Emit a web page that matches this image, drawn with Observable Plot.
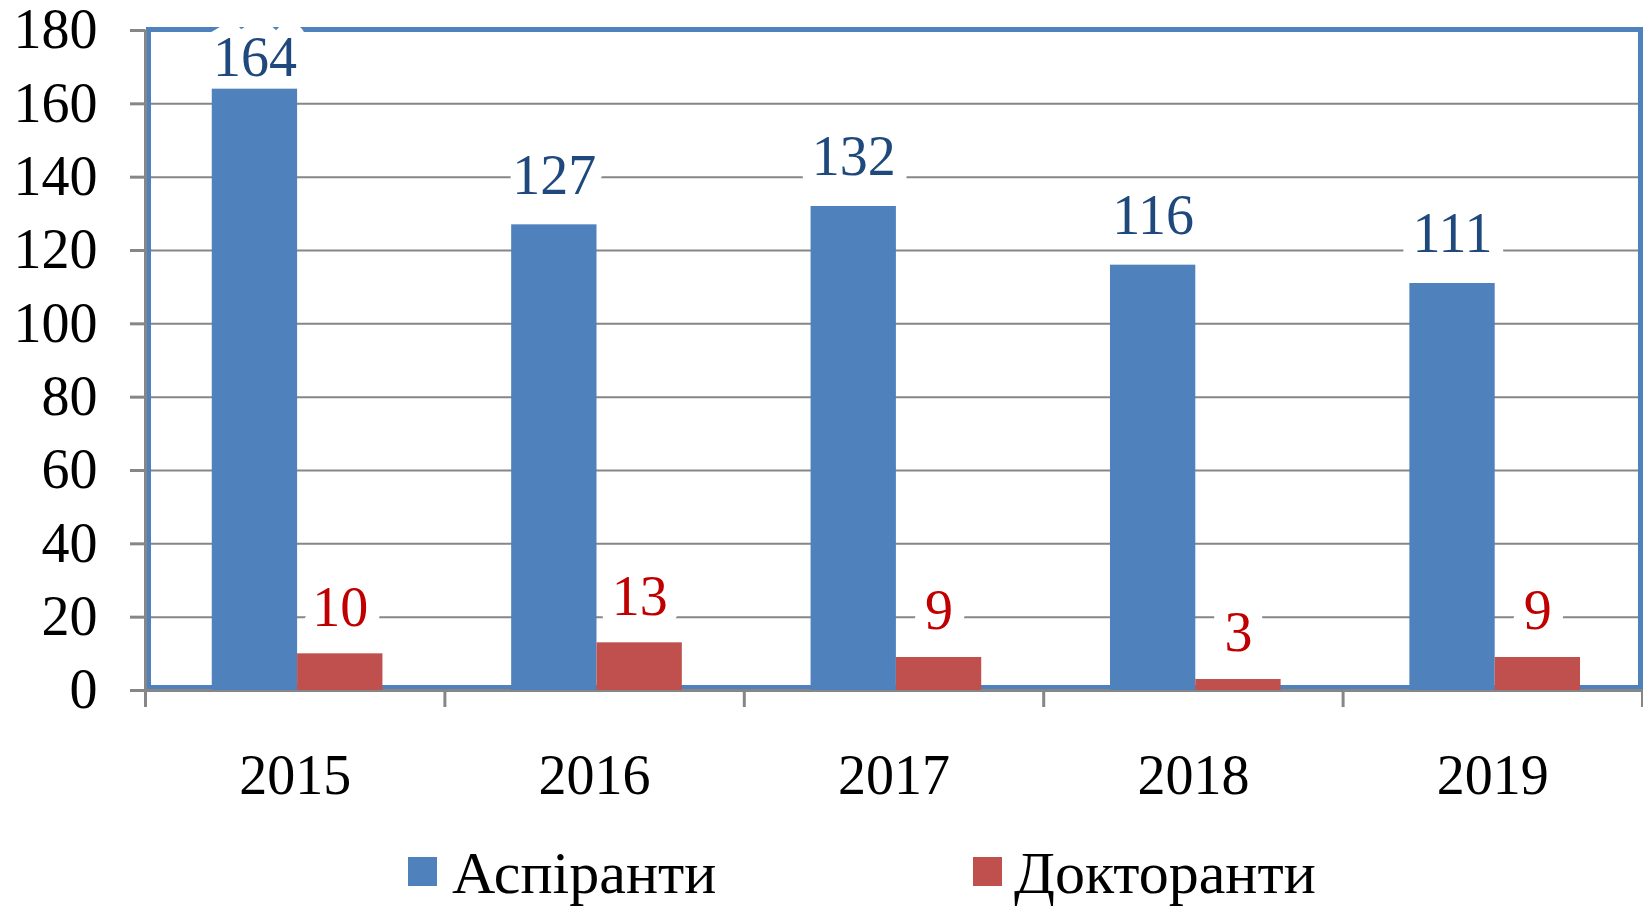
<!DOCTYPE html>
<html><head><meta charset="utf-8">
<script src="https://cdn.jsdelivr.net/npm/d3@7"></script>
<script src="https://cdn.jsdelivr.net/npm/@observablehq/plot@0.6"></script>
<style>
body{margin:0;background:#fff;}
#legend{position:relative;width:1643px;height:86px;font-family:"Liberation Serif","Times New Roman",serif;font-size:60px;}
.sw{position:absolute;top:37px;width:29px;height:29px;}
.lt{position:absolute;top:23px;line-height:60px;white-space:nowrap;color:#000;}
</style></head><body>
<div id="chart"></div>
<div id="legend"></div>
<script>
const years = [2015, 2016, 2017, 2018, 2019];
const seriesNames = ["Аспіранти", "Докторанти"];
const aspiranty = [164, 127, 132, 116, 111];
const doktoranty = [10, 13, 9, 3, 9];
const yTicks = [0, 20, 40, 60, 80, 100, 120, 140, 160, 180];
const seriesColors = ["#4F81BD", "#C0504D"];
const labelColors = ["#1F497D", "#C00000"];

const data = years.flatMap((year, i) => [
  {year, series: seriesNames[0], value: aspiranty[i], k: 0},
  {year, series: seriesNames[1], value: doktoranty[i], k: 1}
]);
const barW = 0.285, shift = 0.008;
const x1 = d => d.year + shift + (d.k - 1) * barW;
const x2 = d => d.year + shift + d.k * barW;
const xc = d => d.year + shift + (d.k - 0.5) * barW;
const boundaries = [...years.map(y => y - 0.5), years[years.length - 1] + 0.5];
const labelMax = 159; // keep labels inside the plot area
const grey = "#868686";
const font = '"Liberation Serif", "Times New Roman", serif';

const labelMark = (k, dy) => Plot.text(data.filter(d => d.k === k), {
  x: xc, y: d => Math.min(d.value, labelMax), text: d => String(d.value),
  dy, fill: labelColors[k], stroke: "white", strokeWidth: 28, strokeLinejoin: "round",
  paintOrder: "stroke", fontSize: 56, fontFamily: font
});

const plot = Plot.plot({
  width: 1643, height: 820,
  marginLeft: 145, marginRight: 1, marginTop: 30, marginBottom: 130,
  style: {fontFamily: font, fontSize: "56px", background: "#fff", color: "#000"},
  x: {type: "linear", domain: [boundaries[0], boundaries[boundaries.length - 1]], label: null},
  y: {domain: [0, 180], label: null},
  color: {domain: seriesNames, range: seriesColors},
  marks: [
    Plot.gridY(yTicks.filter(v => v > 0), {stroke: grey, strokeOpacity: 1, strokeWidth: 2}),
    Plot.frame({stroke: "#4F81BD", strokeWidth: 5, insetLeft: 3, insetRight: 2, insetBottom: 3, insetTop: -1}),
    Plot.ruleX([boundaries[0]], {stroke: grey, strokeWidth: 3}),
    Plot.ruleY([0], {stroke: grey, strokeWidth: 3}),
    Plot.axisY({ticks: yTicks, tickSize: 15, tickPadding: 33, stroke: grey, strokeWidth: 3, fill: "#000", fontSize: 56, label: null}),
    Plot.axisX({ticks: boundaries, tickSize: 17, tickFormat: () => "", stroke: grey, strokeWidth: 3, label: null}),
    Plot.axisX({ticks: years, tickSize: 0, tickPadding: 64, tickFormat: d => String(d), fill: "#000", fontSize: 56, label: null}),
    labelMark(0, -49),
    labelMark(1, -46),
    Plot.rectY(data, {x1, x2, y1: 0, y2: "value", fill: "series"})
  ]
});
document.getElementById("chart").append(plot);

const legend = document.getElementById("legend");
const legendPos = [[408, 452], [973, 1014]];
seriesNames.forEach((name, i) => {
  const sw = document.createElement("div");
  sw.className = "sw"; sw.style.left = legendPos[i][0] + "px"; sw.style.background = seriesColors[i];
  const t = document.createElement("div");
  t.className = "lt"; t.style.left = legendPos[i][1] + "px"; t.textContent = name;
  legend.append(sw, t);
});
</script>
</body></html>
